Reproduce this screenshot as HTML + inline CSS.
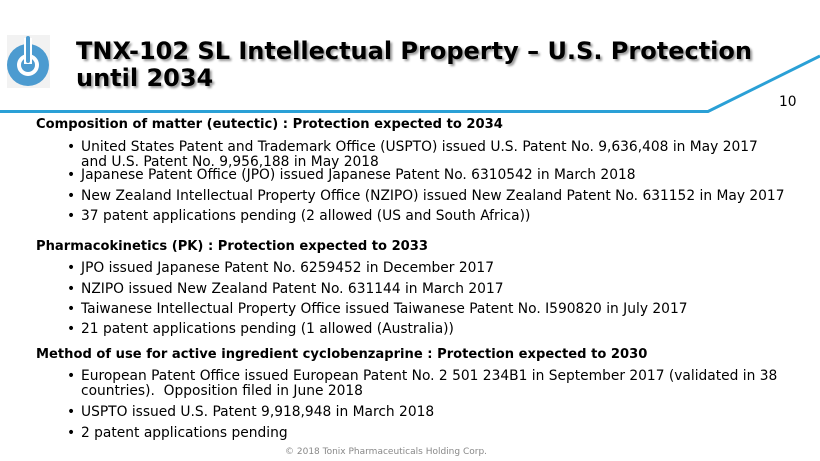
<!DOCTYPE html>
<html><head><meta charset="utf-8"><style>
body{margin:0;width:820px;height:461px;background:#fff;position:relative;overflow:hidden;font-family:"DejaVu Sans","Liberation Sans",sans-serif;color:#000}
.t{position:absolute;white-space:nowrap;font-size:13.8px;line-height:15px}
.h{font-weight:bold;left:36px;font-size:13.1px}
.b{left:67px}
.b span{position:absolute;left:14px}
.title{position:absolute;left:76px;top:38px;font-size:24px;font-weight:bold;line-height:27px;text-shadow:2px 2px 2px #999;white-space:nowrap}
</style></head><body>
<svg width="820" height="461" style="position:absolute;left:0;top:0">
<rect x="7" y="35" width="43" height="53" fill="#f2f2f2"/>
<circle cx="28" cy="65" r="21" fill="#4c9bd0"/>
<circle cx="28" cy="65" r="11" fill="#fff"/>
<circle cx="28" cy="65" r="7" fill="#4c9bd0"/>
<rect x="24" y="38" width="8" height="26" fill="#fff"/>
<rect x="26" y="36" width="4" height="27" rx="2" fill="#4c9bd0"/>
<polyline points="0,111.5 708,111.5 820,56" fill="none" stroke="#2aa0d6" stroke-width="3"/>
</svg>
<div class="title">TNX-102 SL Intellectual Property – U.S. Protection<br>until 2034</div>
<div class="t" style="left:779px;top:95px">10</div>
<div class="t h" style="top:117px">Composition of matter (eutectic) : Protection expected to 2034</div>
<div class="t b" style="top:140px">•<span>United States Patent and Trademark Office (USPTO) issued U.S. Patent No. 9,636,408 in May 2017<br>and U.S. Patent No. 9,956,188 in May 2018</span></div>
<div class="t b" style="top:168px">•<span>Japanese Patent Office (JPO) issued Japanese Patent No. 6310542 in March 2018</span></div>
<div class="t b" style="top:189px">•<span>New Zealand Intellectual Property Office (NZIPO) issued New Zealand Patent No. 631152 in May 2017</span></div>
<div class="t b" style="top:209px">•<span>37 patent applications pending (2 allowed (US and South Africa))</span></div>
<div class="t h" style="top:239px">Pharmacokinetics (PK) : Protection expected to 2033</div>
<div class="t b" style="top:261px">•<span>JPO issued Japanese Patent No. 6259452 in December 2017</span></div>
<div class="t b" style="top:282px">•<span>NZIPO issued New Zealand Patent No. 631144 in March 2017</span></div>
<div class="t b" style="top:302px">•<span>Taiwanese Intellectual Property Office issued Taiwanese Patent No. I590820 in July 2017</span></div>
<div class="t b" style="top:322px">•<span>21 patent applications pending (1 allowed (Australia))</span></div>
<div class="t h" style="top:347px">Method of use for active ingredient cyclobenzaprine : Protection expected to 2030</div>
<div class="t b" style="top:369px">•<span>European Patent Office issued European Patent No. 2 501 234B1 in September 2017 (validated in 38<br>countries).&nbsp; Opposition filed in June 2018</span></div>
<div class="t b" style="top:405px">•<span>USPTO issued U.S. Patent 9,918,948 in March 2018</span></div>
<div class="t b" style="top:426px">•<span>2 patent applications pending</span></div>
<div class="t" style="left:285px;top:445px;font-size:9px;color:#888">© 2018 Tonix Pharmaceuticals Holding Corp.</div>
</body></html>
